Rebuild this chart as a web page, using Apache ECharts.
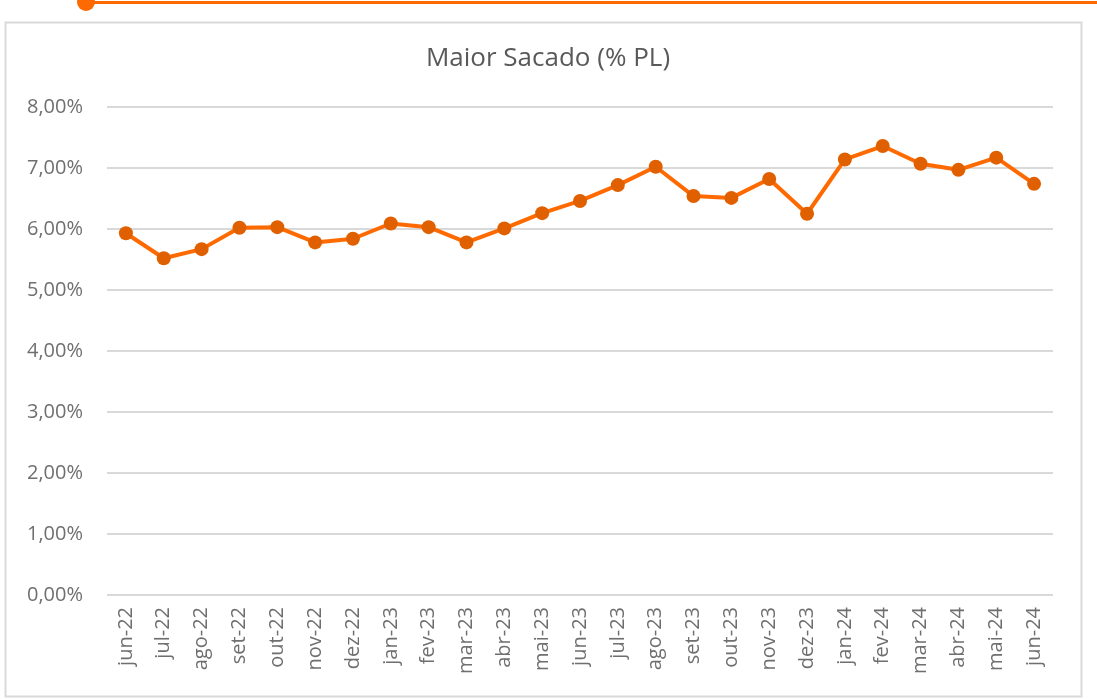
<!DOCTYPE html>
<html>
<head>
<meta charset="utf-8">
<script src="https://cdn.jsdelivr.net/npm/echarts@6/dist/echarts.min.js"></script>
<style>
  html, body { margin: 0; padding: 0; background: #fff; }
  #chart { width: 1097px; height: 699px; }
</style>
</head>
<body>
<div id="chart"></div>
<script>
// Maior Sacado (% PL) — monthly series
const months = [
  "jun-22", "jul-22", "ago-22", "set-22", "out-22", "nov-22", "dez-22",
  "jan-23", "fev-23", "mar-23", "abr-23", "mai-23", "jun-23", "jul-23",
  "ago-23", "set-23", "out-23", "nov-23", "dez-23", "jan-24", "fev-24",
  "mar-24", "abr-24", "mai-24", "jun-24",
];
const maiorSacado = [
  5.93, 5.52, 5.67, 6.02, 6.03, 5.78, 5.84,
  6.09, 6.03, 5.78, 6.01, 6.26, 6.46, 6.72,
  7.02, 6.54, 6.51, 6.82, 6.25, 7.14, 7.36,
  7.07, 6.97, 7.17, 6.74,
];

const chart = echarts.init(document.getElementById("chart"));
const fmt = (v) => v.toFixed(2).replace(".", ",") + "%";
const FONT = "Open Sans";

chart.setOption({
  backgroundColor: "#fff",
  animation: false,
  textStyle: { fontFamily: FONT },
  graphic: [
    {
      type: "rect",
      shape: { x: 5.5, y: 22.5, width: 1076, height: 674 },
      style: { fill: "none", stroke: "#d9d9d9", lineWidth: 2 },
      z: -1,
    },
    {
      type: "line",
      shape: { x1: 86, y1: 2.5, x2: 1097, y2: 2.5 },
      style: { stroke: "#ff6a00", lineWidth: 3 },
    },
    {
      type: "circle",
      shape: { cx: 86, cy: 2, r: 9 },
      style: { fill: "#ff6a00" },
    },
  ],
  title: {
    text: "Maior Sacado (% PL)",
    left: 543,
    top: 41,
    textAlign: "center",
    textStyle: { color: "#595959", fontSize: 26, fontWeight: "normal", fontFamily: FONT },
  },
  grid: { left: 107, right: 44, top: 107, bottom: 104 },
  xAxis: {
    type: "category",
    data: months,
    boundaryGap: true,
    axisLine: { show: false },
    axisTick: { show: false },
    axisLabel: {
      rotate: 90,
      interval: 0,
      margin: 12,
      color: "#6f6f6f",
      fontSize: 20,
      fontFamily: FONT,
    },
  },
  yAxis: {
    type: "value",
    min: 0,
    max: 8,
    interval: 1,
    axisLine: { show: false },
    axisTick: { show: false },
    axisLabel: {
      color: "#6f6f6f",
      fontSize: 20,
      margin: 24,
      fontFamily: FONT,
      formatter: fmt,
    },
    splitLine: { lineStyle: { color: "#d9d9d9", width: 2 } },
  },
  series: [
    {
      name: "Maior Sacado",
      type: "line",
      data: maiorSacado,
      symbol: "circle",
      symbolSize: 14,
      lineStyle: { color: "#ff6a00", width: 4 },
      itemStyle: { color: "#e06000", borderWidth: 0 },
    },
  ],
});
</script>
</body>
</html>
